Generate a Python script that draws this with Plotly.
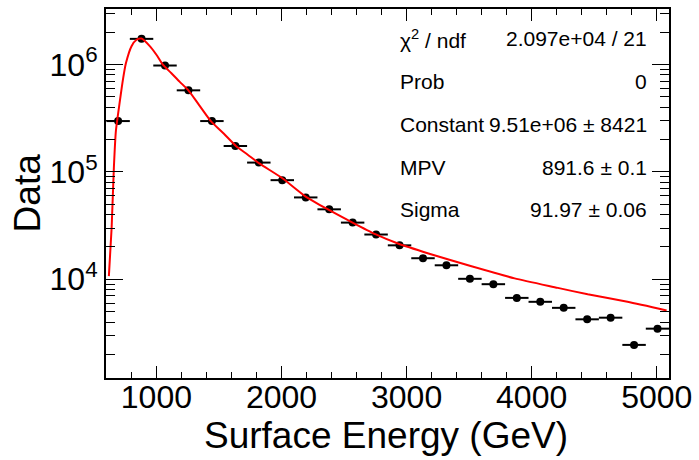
import plotly.graph_objects as go

# ---- data ----
bin_centers = [693.75, 881.25, 1068.75, 1256.25, 1443.75, 1631.25, 1818.75, 2006.25,
               2193.75, 2381.25, 2568.75, 2756.25, 2943.75, 3131.25, 3318.75, 3506.25,
               3693.75, 3881.25, 4068.75, 4256.25, 4443.75, 4631.25, 4818.75, 5006.25]
bin_half_widths = [93.75] * 24
counts = [2.97e5, 1.73e6, 9.77e5, 5.74e5, 2.97e5, 1.74e5, 1.22e5, 8.37e4,
          5.78e4, 4.48e4, 3.37e4, 2.61e4, 2.07e4, 1.57e4, 1.35e4, 1.01e4,
          9.0e3, 6.71e3, 6.17e3, 5.42e3, 4.24e3, 4.39e3, 2.45e3, 3.47e3]

fit_x = [620, 642, 660, 676, 708, 734, 756, 801, 841, 881, 947, 1000, 1050, 1120,
         1185, 1251, 1340, 1437, 1540, 1636, 1730, 1822, 2007, 2193, 2379, 2564,
         2750, 2936, 3175, 3519, 3864, 4209, 4448, 4766, 5079]
fit_y = [1.07e4, 3.02e4, 1.10e5, 2.40e5, 4.57e5, 7.41e5, 1.023e6, 1.479e6, 1.698e6,
         1.74e6, 1.48e6, 1.23e6, 1.00e6, 8.28e5, 6.92e5, 5.82e5, 4.21e5, 2.95e5,
         2.26e5, 1.74e5, 1.445e5, 1.20e5, 8.71e4, 5.89e4, 4.42e4, 3.39e4, 2.63e4,
         2.14e4, 1.74e4, 1.32e4, 1.02e4, 8.32e3, 7.24e3, 6.17e3, 5.13e3]

x_tick_vals = [1000, 2000, 3000, 4000, 5000]
x_tick_text = ["1000", "2000", "3000", "4000", "5000"]
y_tick_vals = [1e4, 1e5, 1e6]
y_tick_text = ["10<sup>4</sup>", "10<sup>5</sup>", "10<sup>6</sup>"]
y_minor_vals = [2e3, 3e3, 4e3, 5e3, 6e3, 7e3, 8e3, 9e3,
                2e4, 3e4, 4e4, 5e4, 6e4, 7e4, 8e4, 9e4,
                2e5, 3e5, 4e5, 5e5, 6e5, 7e5, 8e5, 9e5,
                2e6, 3e6]

stat_labels = ["χ<sup>2</sup> / ndf", "Prob", "Constant", "MPV", "Sigma"]
stat_values = ["2.097e+04 / 21", "0", "9.51e+06 ± 8421", "891.6 ± 0.1", "91.97 ± 0.06"]

x_title = "Surface Energy (GeV)"
y_title = "Data"

FONT = "Liberation Sans, Arial, Helvetica, sans-serif"

fig = go.Figure()
fig.add_trace(go.Scatter(
    x=bin_centers, y=counts, mode="markers",
    marker=dict(color="black", size=8),
    error_x=dict(type="data", array=bin_half_widths, color="black", thickness=2, width=0),
    showlegend=False, cliponaxis=False,
))
fig.add_trace(go.Scatter(
    x=fit_x, y=fit_y, mode="lines",
    line=dict(color="#ff0000", width=2, shape="spline", smoothing=0.6),
    showlegend=False,
))

L, R, T, B = 106, 27, 7, 82
W, H = 699, 460
pw = W - L - R
ph = H - T - B

def px_x(p):
    return (p - L) / pw

def px_y(p):
    return (H - B - p) / ph

fig.update_layout(
    width=W, height=H,
    margin=dict(l=L, r=R, t=T, b=B),
    paper_bgcolor="white", plot_bgcolor="white",
    font=dict(family=FONT, color="black"),
    showlegend=False,
)
fig.update_xaxes(
    range=[597, 5098], showgrid=False, zeroline=False,
    showline=True, linecolor="black", linewidth=2, mirror="allticks",
    ticks="inside", ticklen=12, tickwidth=1, tickcolor="black",
    tickmode="array", tickvals=x_tick_vals, ticktext=x_tick_text,
    tickfont=dict(size=32, family=FONT), ticklabelstandoff=-10,
    minor=dict(ticks="inside", ticklen=6, tickwidth=1, tickcolor="black",
               dtick=200, tick0=0, showgrid=False),
)
fig.update_yaxes(
    type="log", range=[3.081, 6.516], showgrid=False, zeroline=False,
    showline=True, linecolor="black", linewidth=2, mirror="allticks",
    ticks="inside", ticklen=17, tickwidth=1, tickcolor="black",
    tickmode="array", tickvals=y_tick_vals, ticktext=y_tick_text,
    tickfont=dict(size=32, family=FONT),
    minor=dict(ticks="inside", ticklen=9, tickwidth=1, tickcolor="black",
               tickmode="array", tickvals=y_minor_vals, showgrid=False),
)

annotations = []
row_y = [37, 80, 123, 166, 209]
for lab, val, yy in zip(stat_labels, stat_values, row_y):
    annotations.append(dict(xref="paper", yref="paper", x=px_x(400), y=px_y(yy),
                            text=lab, showarrow=False, xanchor="left", yanchor="middle",
                            font=dict(size=21, family=FONT, color="black")))
    annotations.append(dict(xref="paper", yref="paper", x=px_x(652), y=px_y(yy),
                            text=val, showarrow=False, xanchor="right", yanchor="middle",
                            font=dict(size=21, family=FONT, color="black")))
annotations.append(dict(xref="paper", yref="paper", x=px_x(387), y=px_y(436),
                        text=x_title, showarrow=False, xanchor="center", yanchor="middle",
                        font=dict(size=37, family=FONT, color="black")))
annotations.append(dict(xref="paper", yref="paper", x=px_x(27), y=px_y(192),
                        text=y_title, showarrow=False, xanchor="center", yanchor="middle",
                        textangle=-90, font=dict(size=37, family=FONT, color="black")))
fig.update_layout(annotations=annotations)

fig.write_html("out.html")
